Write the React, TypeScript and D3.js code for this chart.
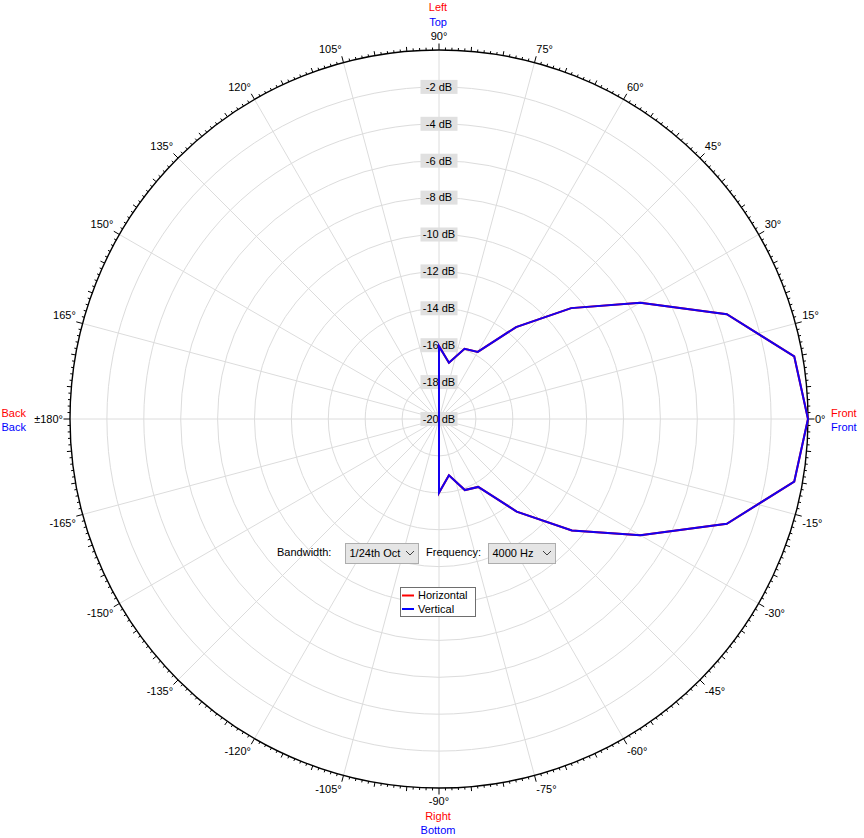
import { useEffect, useRef } from 'react';
import * as d3 from 'd3';

// measurement angles (deg, 0 = front, +90 = left/top)
const angles = [-180, -170, -160, -150, -140, -130, -120, -110, -100, -90, -80, -70, -60, -50, -40, -30, -20, -10, 0,
  10, 20, 30, 40, 50, 60, 70, 80, 90, 100, 110, 120, 130, 140, 150, 160, 170, 180];
const horizontalDb = [-20, -20, -20, -20, -20, -20, -20, -20, -20, -16.0, -16.9, -15.9, -15.75, -13.45, -10.6, -7.4, -3.4, -0.45, 0,
  -0.45, -3.4, -7.4, -10.65, -13.5, -15.8, -15.95, -16.9, -16.05, -20, -20, -20, -20, -20, -20, -20, -20, -20];
const verticalDb = [-20, -20, -20, -20, -20, -20, -20, -20, -20, -16.0, -16.9, -15.9, -15.75, -13.45, -10.6, -7.4, -3.4, -0.45, 0,
  -0.45, -3.4, -7.4, -10.65, -13.5, -15.8, -15.95, -16.9, -16.05, -20, -20, -20, -20, -20, -20, -20, -20, -20];

const ringDb = [-18, -16, -14, -12, -10, -8, -6, -4, -2];
const dbLabels = [-2, -4, -6, -8, -10, -12, -14, -16, -18, -20];
const angleTicks = [0, 15, 30, 45, 60, 75, 90, 105, 120, 135, 150, 165, 180, -165, -150, -135, -120, -105, -90, -75, -60, -45, -30, -15];

const FONT = '"Liberation Sans", Arial, sans-serif';
const RED = '#ff0000';
const BLUE = '#0000ff';

export default function App() {
  const ref = useRef<SVGSVGElement | null>(null);
  useEffect(() => {
    const svg = d3.select(ref.current!);
    svg.selectAll('*').remove();
    const W = 864, H = 838;
    const cx = 439, cy = 419, R = 369;
    const r = d3.scaleLinear().domain([-20, 0]).range([0, R]).clamp(true);
    const rad = (deg: number) => (deg * Math.PI) / 180;
    const px = (deg: number, rr: number) => cx + rr * Math.cos(rad(deg));
    const py = (deg: number, rr: number) => cy - rr * Math.sin(rad(deg));

    svg.append('rect').attr('width', W).attr('height', H).attr('fill', '#fff');
    const g = svg.append('g');

    // grid rings
    g.selectAll('circle.ring').data(ringDb).enter().append('circle')
      .attr('cx', cx).attr('cy', cy).attr('r', (d) => r(d))
      .attr('fill', 'none').attr('stroke', '#dcdcdc').attr('stroke-width', 1);
    // spokes
    g.selectAll('line.spoke').data(angleTicks).enter().append('line')
      .attr('x1', cx).attr('y1', cy)
      .attr('x2', (d) => px(d, R)).attr('y2', (d) => py(d, R))
      .attr('stroke', '#dcdcdc').attr('stroke-width', 1);

    // outer circle + ticks
    g.append('circle').attr('cx', cx).attr('cy', cy).attr('r', R)
      .attr('fill', 'none').attr('stroke', '#000').attr('stroke-width', 1.4);
    const degs = d3.range(0, 360, 1);
    const tlen = (d: number) => (d % 15 === 0 ? 6.5 : d % 5 === 0 ? 4.5 : 2.5);
    g.selectAll('line.tick').data(degs).enter().append('line')
      .attr('x1', (d) => px(d, R)).attr('y1', (d) => py(d, R))
      .attr('x2', (d) => px(d, R + tlen(d)))
      .attr('y2', (d) => py(d, R + tlen(d)))
      .attr('stroke', '#000').attr('stroke-width', 1);

    // dB labels
    const dbG = g.append('g');
    dbLabels.forEach((d) => {
      const y = cy - r(d);
      dbG.append('rect').attr('x', cx - 18.5).attr('y', y - 7).attr('width', 37).attr('height', 14).attr('fill', '#e0e0e0');
      dbG.append('text').attr('x', cx).attr('y', y).attr('dy', '0.35em').attr('text-anchor', 'middle')
        .attr('font-family', FONT).attr('font-size', 11).attr('fill', '#000').text(`${d} dB`);
    });

    // angle labels: the label box corner nearest the circle sits at the tick end
    const LR = R + 7;
    angleTicks.forEach((a) => {
      const c = Math.cos(rad(a)), s = Math.sin(rad(a));
      const anchor = c > 0.01 ? 'start' : c < -0.01 ? 'end' : 'middle';
      const yOff = s > 0.01 ? -6.5 : s < -0.01 ? 6.5 : 0;
      g.append('text').attr('font-family', FONT).attr('font-size', 11).attr('fill', '#000')
        .attr('text-anchor', anchor).attr('dy', '0.35em')
        .attr('x', px(a, LR)).attr('y', py(a, LR) + yOff)
        .text(a === 180 ? '±180°' : `${a}°`);
    });

    // side labels
    const side = (x: number, y: number, txt: string, fill: string, anchor: string) =>
      g.append('text').attr('x', x).attr('y', y).attr('dy', '0.35em').attr('text-anchor', anchor)
        .attr('font-family', FONT).attr('font-size', 11).attr('fill', fill).text(txt);
    side(438, 7, 'Left', RED, 'middle');
    side(438, 22, 'Top', BLUE, 'middle');
    side(438, 816, 'Right', RED, 'middle');
    side(438, 830, 'Bottom', BLUE, 'middle');
    side(26, 413, 'Back', RED, 'end');
    side(26, 427, 'Back', BLUE, 'end');
    side(831, 413, 'Front', RED, 'start');
    side(831, 427, 'Front', BLUE, 'start');

    // curves
    const line = d3.lineRadial<number>()
      .angle((_, i) => rad(90 - angles[i]))
      .radius((d) => r(d));
    const curves = g.append('g').attr('transform', `translate(${cx},${cy})`);
    curves.append('path').attr('d', line(horizontalDb)).attr('fill', 'none')
      .attr('stroke', RED).attr('stroke-width', 2).attr('stroke-linejoin', 'miter');
    curves.append('path').attr('d', line(verticalDb)).attr('fill', 'none')
      .attr('stroke', '#1400f0').attr('stroke-width', 2).attr('stroke-linejoin', 'miter');

    // controls
    const ctl = g.append('g').attr('font-family', FONT).attr('font-size', 11);
    ctl.append('text').attr('x', 277).attr('y', 552).attr('dy', '0.35em').text('Bandwidth:');
    ctl.append('text').attr('x', 426).attr('y', 552).attr('dy', '0.35em').text('Frequency:');
    const combo = (x: number, w: number, txt: string) => {
      ctl.append('rect').attr('x', x + 0.5).attr('y', 543.5).attr('width', w).attr('height', 20)
        .attr('fill', '#e5e5e5').attr('stroke', '#adadad');
      ctl.append('text').attr('x', x + 4.5).attr('y', 553).attr('dy', '0.35em').text(txt);
      const ax = x + w - 8;
      ctl.append('path').attr('d', `M${ax - 4},551 L${ax},555 L${ax + 4},551`)
        .attr('fill', 'none').attr('stroke', '#404040').attr('stroke-width', 1);
    };
    combo(345, 73, '1/24th Oct');
    combo(488, 67, '4000 Hz');

    // legend
    const lg = g.append('g').attr('font-family', FONT).attr('font-size', 11);
    lg.append('rect').attr('x', 400.5).attr('y', 587.5).attr('width', 75).attr('height', 29)
      .attr('fill', '#fff').attr('stroke', '#6e6e6e');
    [['Horizontal', RED, 595.5], ['Vertical', BLUE, 609]].forEach(([txt, col, y]) => {
      lg.append('line').attr('x1', 402).attr('x2', 414).attr('y1', y as number).attr('y2', y as number)
        .attr('stroke', col as string).attr('stroke-width', 2);
      lg.append('text').attr('x', 418).attr('y', y as number).attr('dy', '0.35em').text(txt as string);
    });
  }, []);
  return <svg ref={ref} width={864} height={838} style={{ position: 'absolute', left: 0, top: 0 }} />;
}
